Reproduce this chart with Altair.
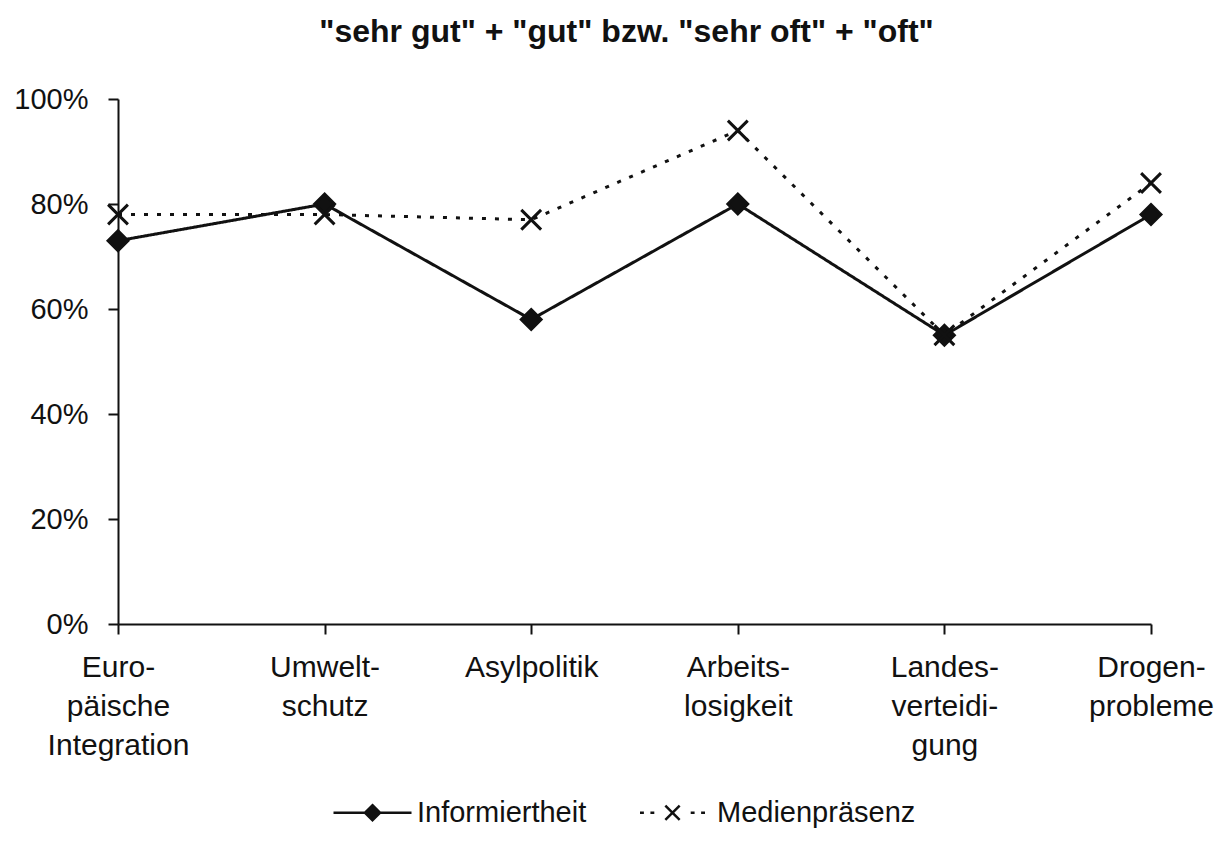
import altair as alt
import pandas as pd

# ---- data ----
categories = [
    "Euro-\npäische\nIntegration",
    "Umwelt-\nschutz",
    "Asylpolitik",
    "Arbeits-\nlosigkeit",
    "Landes-\nverteidi-\ngung",
    "Drogen-\nprobleme",
]
series_names = ["Informiertheit", "Medienpräsenz"]
informiertheit = [73, 80, 58, 80, 55, 78]
medienpraesenz = [78, 78, 77, 94, 55, 84]
y_ticks = [0, 20, 40, 60, 80, 100]
title_text = '"sehr gut" + "gut" bzw. "sehr oft" + "oft"'

rows = []
for i, cat in enumerate(categories):
    rows.append({"Thema": cat, "Serie": series_names[0], "Wert": informiertheit[i]})
    rows.append({"Thema": cat, "Serie": series_names[1], "Wert": medienpraesenz[i]})
df = pd.DataFrame(rows)

FONT = "Liberation Sans"
INK = "#111111"

# marker shapes (unit coordinates)
DIAMOND = "M0,-0.9L0.9,0L0,0.9L-0.9,0Z"
XMARK = "M-0.9,-0.9L0.9,0.9M-0.9,0.9L0.9,-0.9"
# legend glyphs: line with marker (stroke only, diamond filled by nested outlines)
LEG_INF = ("M-3,0L3,0"
           "M0,-0.58L0.58,0L0,0.58L-0.58,0Z"
           "M0,-0.36L0.36,0L0,0.36L-0.36,0Z"
           "M0,-0.14L0.14,0L0,0.14L-0.14,0Z")
LEG_MED = ("M-2.5,0L-2.2,0M-1.7,0L-1.4,0M1.4,0L1.7,0M2.2,0L2.5,0"
           "M-0.55,-0.55L0.55,0.55M-0.55,0.55L0.55,-0.55")

x_enc = alt.X(
    "Thema:N",
    sort=categories,
    scale=alt.Scale(type="point", padding=0),
    axis=alt.Axis(
        title=None,
        labelAngle=0,
        labelExpr="split(datum.value, '\\n')",
        labelFont=FONT,
        labelFontSize=30,
        labelLineHeight=39,
        labelColor=INK,
        labelPadding=18,
        labelBaseline="top",
        tickSize=10,
        tickWidth=2,
        tickColor=INK,
        domainColor=INK,
        domainWidth=2,
        grid=False,
    ),
)
y_enc = alt.Y(
    "Wert:Q",
    scale=alt.Scale(domain=[0, 100], nice=False, zero=True),
    axis=alt.Axis(
        title=None,
        values=y_ticks,
        labelExpr="datum.value + '%'",
        labelFont=FONT,
        labelFontSize=29,
        labelColor=INK,
        labelPadding=20,
        tickSize=10,
        tickWidth=2,
        tickColor=INK,
        domainColor=INK,
        domainWidth=2,
        grid=False,
    ),
)

base = alt.Chart(df)

lines = base.mark_line(color=INK, strokeWidth=3).encode(
    x=x_enc,
    y=y_enc,
    strokeDash=alt.StrokeDash(
        "Serie:N",
        scale=alt.Scale(domain=series_names, range=[[1, 0], [4, 9]]),
        legend=None,
    ),
)

points = base.mark_point(
    filled=True, color=INK, stroke=INK, strokeWidth=3, size=484, opacity=1
).encode(
    x=x_enc,
    y=y_enc,
    shape=alt.Shape(
        "Serie:N",
        scale=alt.Scale(domain=series_names, range=[DIAMOND, XMARK]),
        legend=None,
    ),
)

# legend only: no marks drawn (filtered out), domain given explicitly
legend_layer = base.transform_filter("datum.Wert < 0").mark_point(
    filled=False, color=INK, strokeWidth=2.5
).encode(
    x=x_enc,
    y=y_enc,
    shape=alt.Shape(
        "Serie:N",
        scale=alt.Scale(domain=series_names, range=[LEG_INF, LEG_MED]),
        legend=alt.Legend(
            title=None,
            orient="none",
            direction="horizontal",
            legendX=240,
            legendY=699,
            symbolSize=676,
            symbolStrokeWidth=2.5,
            symbolStrokeColor=INK,
            symbolOpacity=1,
            labelFont=FONT,
            labelFontSize=29,
            labelColor=INK,
            labelOffset=30,
            labelLimit=400,
            columnPadding=48,
        ),
    ),
)

chart = (
    alt.layer(lines, points, legend_layer)
    .resolve_scale(shape="independent")
    .properties(
        width=1033,
        height=525,
        title=alt.TitleParams(
            text=title_text,
            font=FONT,
            fontSize=32,
            fontWeight="bold",
            color=INK,
            anchor="middle",
            offset=36,
            dx=-8,
        ),
        autosize=alt.AutoSizeParams(type="none"),
        padding={"left": 110, "top": 91, "right": 72, "bottom": 205},
        background="white",
    )
    .configure_view(stroke=None)
)

chart.save("out.html", embed_options={"renderer": "svg", "actions": False})
